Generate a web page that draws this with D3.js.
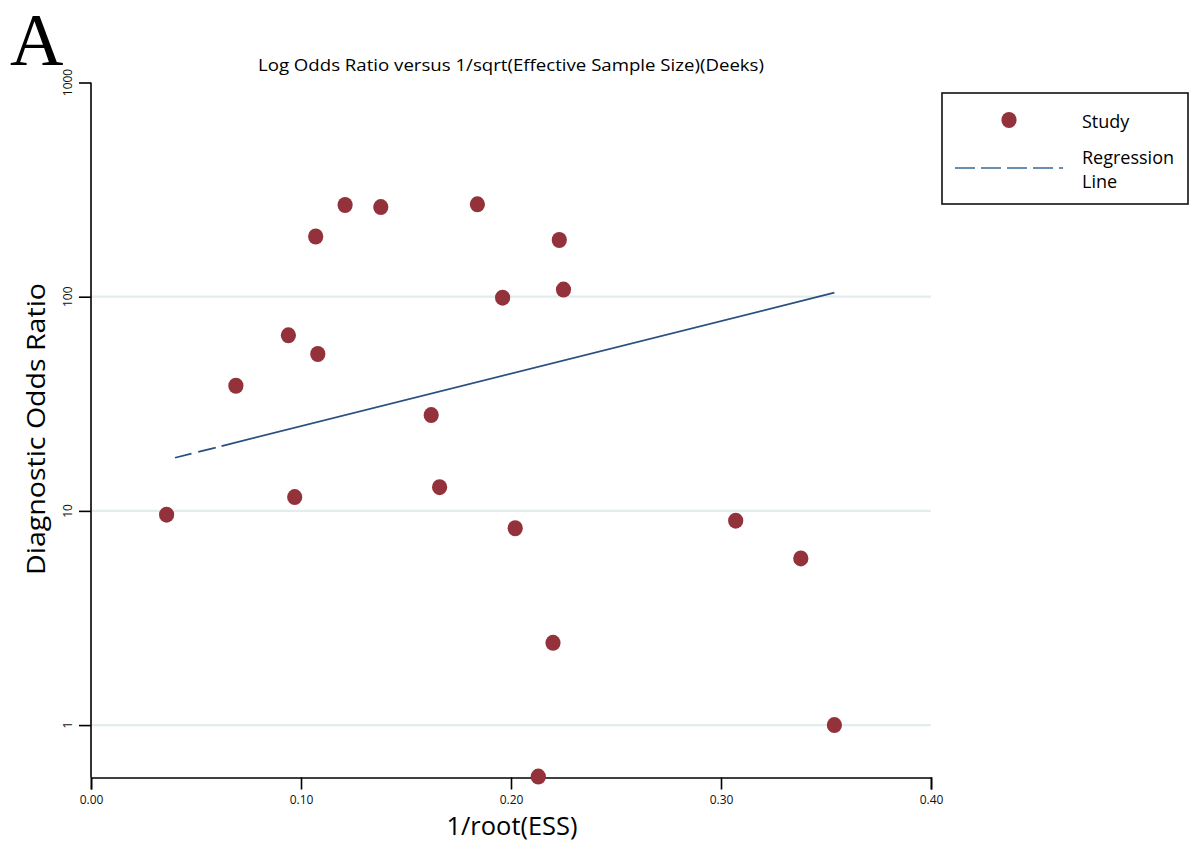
<!DOCTYPE html>
<html>
<head>
<meta charset="utf-8">
<script src="https://cdn.jsdelivr.net/npm/d3@7"></script>
<style>
  body { margin: 0; background: #fff; }
  text { font-family: "Open Sans", "Noto Sans", sans-serif; }
</style>
</head>
<body>
<div id="container"></div>
<script>
// study points: 1/sqrt(ESS) and diagnostic odds ratio
let essX = [0.036, 0.069, 0.094, 0.097, 0.107, 0.108, 0.121, 0.138, 0.162, 0.166,
            0.184, 0.196, 0.202, 0.220, 0.223, 0.225, 0.213, 0.307, 0.338, 0.354];
let dor  = [9.6, 38.4, 66, 11.6, 191, 54, 268, 262, 28, 12.9,
            270, 99, 8.3, 2.42, 184, 108, 0.575, 9.0, 6.0, 1.0];

// regression line end points
let regX = [0.04, 0.354];
let regY = [17.7, 104.4];

let xTicks = [0, 0.1, 0.2, 0.3, 0.4];
let yTicks = [1, 10, 100, 1000];
let gridTicks = [1, 10, 100];

let w = 1199;
let h = 843;

let viz = d3.select("#container")
  .append("svg")
    .attr("width", w)
    .attr("height", h)
    .style("background-color", "#ffffff")
;

let xScale = d3.scaleLinear().domain([0, 0.4]).range([91, 931]);
let yScale = d3.scaleLog().domain([0.5692, 1000]).range([777.5, 82.5]);

// grid
viz.selectAll(".grid").data(gridTicks).enter()
  .append("line")
    .attr("class", "grid")
    .attr("x1", xScale(0))
    .attr("x2", xScale(0.4))
    .attr("y1", d => yScale(d))
    .attr("y2", d => yScale(d))
    .attr("stroke", "#e2eeee")
    .attr("stroke-width", 2.2)
;

// x axis
let xAxis = d3.axisBottom(xScale)
    .tickValues(xTicks)
    .tickSize(12)
    .tickPadding(6)
    .tickFormat(d3.format(".2f"));

let xg = viz.append("g")
    .attr("transform", "translate(0," + yScale.range()[0] + ")")
    .call(xAxis);
xg.select(".domain").attr("stroke-width", 1.6);
xg.selectAll(".tick line").attr("stroke-width", 1.6);
xg.selectAll("text")
    .style("font-family", "'Open Sans', sans-serif")
    .style("font-size", "12px")
    .attr("fill", "#111");

// y axis
let yAxis = d3.axisLeft(yScale)
    .tickValues(yTicks)
    .tickSize(12)
    .tickFormat("");

let yg = viz.append("g")
    .attr("transform", "translate(" + xScale(0) + ",0)")
    .call(yAxis);
yg.select(".domain").attr("stroke-width", 1.6).attr("d", "M0," + yScale.range()[1] + "V" + yScale.range()[0]);
yg.selectAll(".tick line").attr("stroke-width", 1.6);

viz.selectAll(".ylab").data(yTicks).enter()
  .append("text")
    .attr("class", "ylab")
    .attr("transform", d => "translate(72," + yScale(d) + ") rotate(-90)")
    .attr("text-anchor", "middle")
    .style("font-size", "12px")
    .attr("fill", "#111")
    .text(d => d)
;

// regression line, dashed at the start
viz.append("line")
    .attr("x1", xScale(regX[0]))
    .attr("y1", yScale(regY[0]))
    .attr("x2", xScale(regX[1]))
    .attr("y2", yScale(regY[1]))
    .attr("stroke", "#294f7c")
    .attr("stroke-width", 1.7)
    .attr("stroke-dasharray", "17,7,18,6,2000")
;

// points
let pts = essX.map((x, i) => ({x: x, y: dor[i]}));
viz.selectAll(".pt").data(pts).enter()
  .append("ellipse")
    .attr("class", "pt")
    .attr("cx", d => xScale(d.x))
    .attr("cy", d => yScale(d.y))
    .attr("rx", 7.6)
    .attr("ry", 8)
    .attr("fill", "#93323a")
;

// titles
viz.append("text")
    .attr("x", 10)
    .attr("y", 65)
    .style("font-family", "'Liberation Serif', 'DejaVu Serif', serif")
    .style("font-size", "74px")
    .text("A")
;

viz.append("text")
    .attr("x", 511)
    .attr("y", 71)
    .attr("text-anchor", "middle")
    .attr("textLength", 506)
    .attr("lengthAdjust", "spacingAndGlyphs")
    .style("font-size", "17px")
    .text("Log Odds Ratio versus 1/sqrt(Effective Sample Size)(Deeks)")
;

viz.append("text")
    .attr("x", 512)
    .attr("y", 835)
    .attr("text-anchor", "middle")
    .attr("textLength", 131)
    .attr("lengthAdjust", "spacingAndGlyphs")
    .style("font-size", "25px")
    .text("1/root(ESS)")
;

viz.append("text")
    .attr("transform", "translate(45,429) rotate(-90)")
    .attr("text-anchor", "middle")
    .attr("textLength", 292)
    .attr("lengthAdjust", "spacingAndGlyphs")
    .style("font-size", "26px")
    .text("Diagnostic Odds Ratio")
;

// legend
let lg = viz.append("g");
lg.append("rect")
    .attr("x", 942)
    .attr("y", 93)
    .attr("width", 246)
    .attr("height", 111)
    .attr("fill", "none")
    .attr("stroke", "#111")
    .attr("stroke-width", 1.6)
;
lg.append("ellipse")
    .attr("cx", 1009)
    .attr("cy", 120)
    .attr("rx", 7.6)
    .attr("ry", 8)
    .attr("fill", "#93323a")
;
lg.append("line")
    .attr("x1", 955)
    .attr("x2", 1063)
    .attr("y1", 168)
    .attr("y2", 168)
    .attr("stroke", "#3a6a98")
    .attr("stroke-width", 1.6)
    .attr("stroke-dasharray", "20,6")
;
lg.append("text").attr("x", 1082).attr("y", 128).style("font-size", "18px").text("Study");
lg.append("text").attr("x", 1082).attr("y", 164).style("font-size", "18px").text("Regression");
lg.append("text").attr("x", 1082).attr("y", 188).style("font-size", "18px").text("Line");
</script>
</body>
</html>
